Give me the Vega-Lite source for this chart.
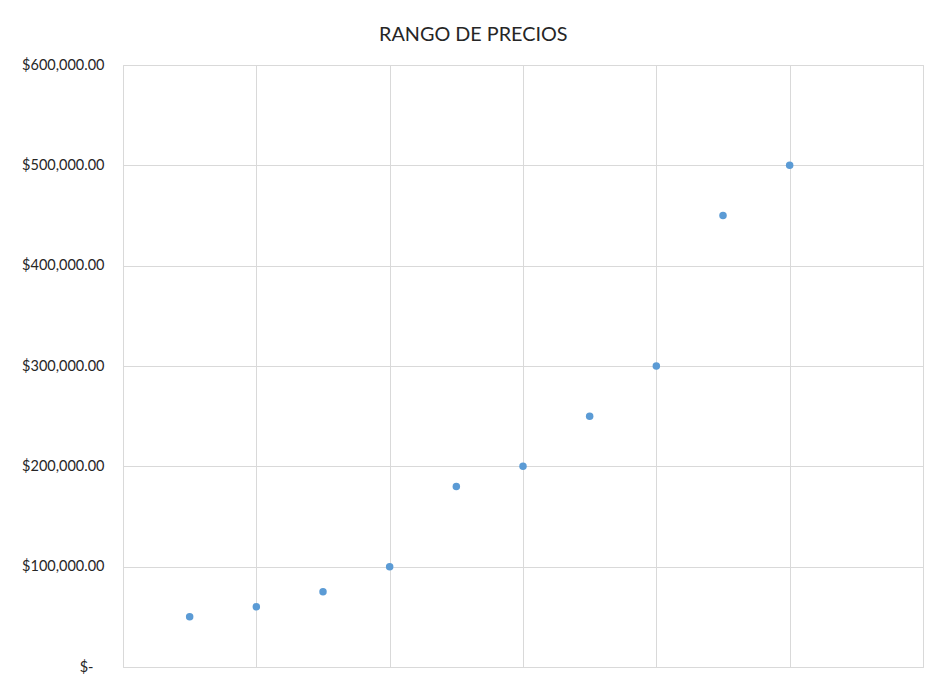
{
  "$schema": "https://vega.github.io/schema/vega-lite/v6.json",
  "width": 800,
  "height": 602,
  "autosize": "none",
  "padding": {"left": 123, "top": 65, "right": 7, "bottom": 14},
  "background": "white",
  "title": {
    "text": "RANGO DE PRECIOS",
    "anchor": "middle",
    "frame": "bounds",
    "font": "Lato",
    "fontSize": 19.8,
    "fontWeight": "normal",
    "color": "#262626",
    "baseline": "alphabetic",
    "offset": -4,
    "dx": 1
  },
  "data": {
    "values": [
      {"item": 1, "precio": 50000},
      {"item": 2, "precio": 60000},
      {"item": 3, "precio": 75000},
      {"item": 4, "precio": 100000},
      {"item": 5, "precio": 180000},
      {"item": 6, "precio": 200000},
      {"item": 7, "precio": 250000},
      {"item": 8, "precio": 300000},
      {"item": 9, "precio": 450000},
      {"item": 10, "precio": 500000}
    ]
  },
  "mark": {"type": "circle", "size": 56, "opacity": 1, "color": "#5B9BD5"},
  "encoding": {
    "x": {
      "field": "item",
      "type": "quantitative",
      "scale": {"domain": [0, 12], "nice": false, "zero": false},
      "axis": {
        "title": null,
        "labels": false,
        "ticks": false,
        "domain": false,
        "grid": true,
        "values": [0, 2, 4, 6, 8, 10, 12],
        "gridColor": "#D9D9D9",
        "gridWidth": 1
      }
    },
    "y": {
      "field": "precio",
      "type": "quantitative",
      "scale": {"domain": [0, 600000], "nice": false},
      "axis": {
        "title": null,
        "values": [0, 100000, 200000, 300000, 400000, 500000, 600000],
        "labelExpr": "datum.value == 0 ? '$-' : '$' + format(datum.value, ',.2f')",
        "labelFont": "Lato",
        "labelFontSize": 14.5,
        "labelColor": "#262626",
        "labelPadding": {"condition": {"test": "datum.value == 0", "value": 30}, "value": 19},
        "ticks": false,
        "domain": false,
        "grid": true,
        "gridColor": "#D9D9D9",
        "gridWidth": 1
      }
    }
  },
  "config": {
    "view": {"stroke": "#D9D9D9", "strokeWidth": 1}
  }
}
